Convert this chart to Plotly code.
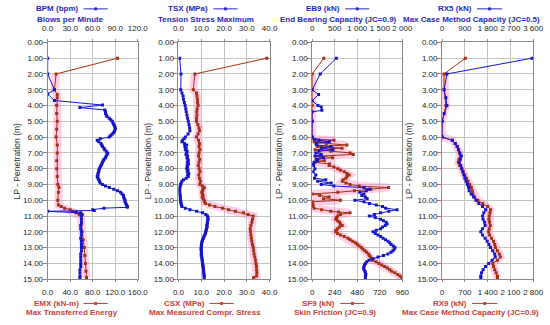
import plotly.graph_objects as go

# ---------------- DATA ----------------
# Panel 1: BPM (top axis) and EMX (bottom axis)
bpm_depth = [1.0, 2.0, 3.0, 3.27, 3.68, 3.97, 4.13, 4.28, 4.4, 4.5, 4.6, 4.7, 4.8, 4.9, 5.0, 5.1, 5.2, 5.3, 5.4, 5.5,
             5.6, 5.7, 5.8, 5.9, 6.0, 6.1, 6.2, 6.3, 6.4, 6.5, 6.6, 6.7, 6.8, 6.9, 7.0, 7.1, 7.2, 7.3, 7.4, 7.5,
             7.6, 7.7, 7.8, 7.9, 8.0, 8.1, 8.2, 8.3, 8.4, 8.5, 8.6, 8.7, 8.8, 8.9, 9.0, 9.1, 9.2, 9.3, 9.4, 9.5,
             9.6, 9.7, 9.8, 9.9, 10.0, 10.1, 10.2, 10.3, 10.4, 10.45, 10.5, 10.6, 10.65, 10.7, 10.75, 10.8, 10.9,
             11.0, 11.2, 11.4, 11.6, 11.8, 12.0, 12.2, 12.4, 12.6, 12.8, 13.0, 13.2, 13.4, 13.6, 13.8, 14.0, 14.2,
             14.4, 14.6, 14.8, 14.9]
bpm_value = [0, 0, 9, 0, 9, 73, 43, 76, 77, 77, 78, 79, 82, 84, 86, 87, 88, 89, 90, 90,
             89, 88, 86, 84, 82, 70, 66, 68, 71, 72, 73, 75, 76, 78, 80, 79, 78, 77, 75, 74,
             73, 72, 71, 70, 69, 68, 68, 67, 67, 66, 67, 68, 69, 70, 73, 77, 82, 88, 93, 97,
             99, 101, 101, 102, 103, 103, 104, 105, 106, 106, 75, 60, 62, 0, 38, 44, 46,
             45, 45, 45, 44, 44, 45, 45, 44, 45, 45, 45, 45, 44, 44, 44, 44, 44,
             43, 43, 43, 43]
emx_depth = [1.0, 2.0, 3.0, 3.3, 3.5, 4.0, 4.5, 5.0, 5.5, 6.0, 6.5, 7.0, 7.5, 8.0, 8.5, 9.0, 9.2, 9.5, 10.0,
             10.3, 10.4, 10.5, 10.6, 10.7, 10.8, 10.9, 11.0, 11.5, 12.0, 12.5, 13.0, 13.5, 14.0, 14.5, 14.9]
emx_value = [124, 15, 12, 17, 17, 16, 16, 17, 16, 15, 17, 17, 16, 16, 17, 18, 20, 19, 18,
             19, 24, 30, 40, 44, 50, 56, 59, 60, 61, 63, 65, 66, 67, 68, 69]

# Panel 2: TSX (top) and CSX (bottom)
tsx_depth = [1.0, 2.0, 3.0, 3.2, 3.4, 3.6, 3.8, 4.0, 4.2, 4.4, 4.6, 4.8, 5.0, 5.2, 5.4, 5.6, 5.8, 6.0, 6.1, 6.2,
             6.3, 6.4, 6.5, 6.6, 6.7, 6.8, 6.9, 7.0, 7.1, 7.2, 7.3, 7.4, 7.5, 7.6, 7.7, 7.8, 7.9, 8.0, 8.1, 8.2,
             8.3, 8.4, 8.5, 8.6, 8.7, 8.8, 8.9, 9.0, 9.1, 9.2, 9.3, 9.4, 9.5, 9.6, 9.7, 9.8, 9.9, 10.0, 10.1,
             10.2, 10.3, 10.4, 10.5, 10.6, 10.7, 10.8, 10.9, 11.0, 11.1, 11.2, 11.3, 11.4, 11.5, 11.6, 11.7,
             11.8, 11.9, 12.0, 12.1, 12.2, 12.3, 12.4, 12.5, 12.6, 12.7, 12.8, 12.9, 13.0, 13.1, 13.2, 13.3,
             13.4, 13.5, 13.6, 13.7, 13.8, 13.9, 14.0, 14.1, 14.2, 14.3, 14.4, 14.5, 14.6, 14.7, 14.8, 14.9]
tsx_value = [0.5, 1.1, 1.0, 1.5, 2.0, 2.2, 2.6, 2.9, 3.2, 3.4, 3.7, 4.0, 4.3, 4.6, 4.9, 5.0, 4.2, 3.0, 2.5, 1.8,
             1.5, 2.6, 3.6, 2.8, 3.4, 3.0, 3.8, 3.6, 3.3, 4.0, 3.7, 4.1, 4.3, 3.9, 4.4, 3.8, 4.0, 3.6, 4.2, 3.9,
             4.5, 4.0, 4.3, 3.4, 2.2, 1.5, 1.2, 0.9, 0.7, 0.6, 0.5, 0.5, 0.5, 0.6, 0.7, 0.8, 0.8, 0.9, 1.0,
             1.1, 1.3, 1.5, 3.0, 5.0, 8.0, 10.6, 12.0, 12.7, 12.9, 13.0, 12.8, 12.7, 12.6, 12.4, 12.6,
             12.3, 12.1, 12.0, 11.8, 11.5, 11.2, 10.9, 10.6, 10.4, 10.2, 10.1, 10.0, 10.0, 9.9, 10.0, 10.1,
             10.0, 10.0, 10.2, 10.3, 10.4, 10.5, 10.6, 10.7, 10.8, 10.9, 11.0, 11.0, 11.1, 11.2, 11.3, 11.3]
csx_depth = [1.0, 2.0, 3.0, 3.2, 3.4, 3.6, 3.8, 4.0, 4.2, 4.4, 4.6, 4.8, 5.0, 5.2, 5.4, 5.6, 5.8, 6.0, 6.2, 6.4,
             6.6, 6.8, 7.0, 7.2, 7.4, 7.6, 7.8, 8.0, 8.2, 8.4, 8.6, 8.8, 9.0, 9.1, 9.2, 9.3, 9.4, 9.5, 9.6, 9.7,
             9.8, 9.9, 10.0, 10.1, 10.2, 10.3, 10.4, 10.5, 10.6, 10.7, 10.8, 10.9, 11.0, 11.2, 11.4, 11.6, 11.8,
             12.0, 12.2, 12.4, 12.6, 12.8, 13.0, 13.2, 13.4, 13.6, 13.8, 14.0, 14.2, 14.4, 14.6, 14.8, 14.9]
csx_value = [38.8, 7.2, 6.5, 7.9, 8.1, 8.3, 8.4, 8.6, 8.2, 8.0, 8.1, 7.9, 7.9, 8.5, 9.0, 9.2, 8.6, 7.9, 8.8, 9.2,
             9.0, 9.4, 9.0, 8.8, 9.3, 9.0, 8.7, 9.1, 9.4, 8.9, 9.2, 9.6, 9.4, 10.5, 11.3, 10.8, 10.6, 10.2, 10.5, 10.8,
             10.4, 10.9, 11.2, 11.5, 11.8, 13.6, 16.0, 19.3, 22.0, 25.0, 28.5, 30.6, 32.8, 32.5, 32.2, 31.8, 31.5,
             31.6, 31.8, 32.0, 32.2, 32.5, 32.8, 33.0, 33.2, 33.5, 33.8, 34.0, 34.2, 34.3, 34.4, 34.3, 33.0]

# Panel 3: EB9 (top) and SF9 (bottom)
eb9_depth = [1.0, 2.0, 3.0, 3.3, 3.7, 4.0, 4.1, 4.3, 4.4, 5.0, 6.0, 6.15, 6.2, 6.3, 6.4, 6.5, 6.6, 6.7, 6.8, 6.9,
             7.0, 7.1, 7.2, 7.3, 7.4, 7.5, 7.6, 7.7, 7.8, 8.0, 8.2, 8.4, 8.6, 8.7, 8.8, 8.9, 9.0, 9.1, 9.2, 9.3,
             9.4, 9.5, 9.6, 9.7, 9.8, 9.9, 10.0, 10.1, 10.2, 10.3, 10.4, 10.5, 10.6, 10.7, 10.8, 10.9, 11.0,
             11.1, 11.2, 11.3, 11.4, 11.5, 11.6, 11.7, 11.8, 11.9, 12.0, 12.1, 12.2, 12.3, 12.4, 12.5, 12.6,
             12.7, 12.8, 12.9, 13.0, 13.1, 13.2, 13.3, 13.4, 13.5, 13.6, 13.7, 13.8, 13.9, 14.0, 14.1, 14.2,
             14.3, 14.4, 14.5, 14.6, 14.7, 14.8, 14.9]
eb9_value = [534, 177, 0, 141, 0, 128, 200, 214, 0, 0, 0, 60, 150, 380, 90, 100, 420, 200, 460, 150,
             80, 200, 60, 250, 100, 120, 40, 0, 30, 60, 20, 80, 50, 300, 120, 420, 200, 480, 1150, 1267,
             1200, 1053, 1150, 1100, 1180, 1220, 946, 1150, 1270, 1420, 1560, 1630, 1880, 1700, 1517, 1380, 1267,
             1400, 1517, 1580, 1640, 1660, 1620, 1560, 1517, 1420, 1350, 1400, 1460, 1517, 1570, 1625, 1680,
             1720, 1750, 1800, 1837, 1820, 1790, 1750, 1680, 1580, 1460, 1350, 1260, 1210, 1180, 1160, 1150,
             1140, 1150, 1170, 1180, 1190, 1180, 1180]
sf9_depth = [1.0, 2.0, 3.0, 4.0, 5.0, 6.0, 6.1, 6.2, 6.3, 6.4, 6.5, 6.6, 6.7, 6.8, 6.9, 7.0, 7.1, 7.2, 7.3, 7.4,
             7.5, 7.6, 7.7, 7.8, 7.9, 8.0, 8.1, 8.2, 8.3, 8.4, 8.5, 8.6, 8.7, 8.8, 8.9, 9.0, 9.1, 9.2, 9.3, 9.4,
             9.5, 9.6, 9.7, 9.8, 9.9, 10.0, 10.1, 10.2, 10.3, 10.4, 10.5, 10.6, 10.7, 10.75, 10.8, 10.9, 11.0,
             11.1, 11.2, 11.3, 11.4, 11.5, 11.6, 11.7, 11.8, 11.9, 12.0, 12.1, 12.2, 12.3, 12.4, 12.5, 12.6,
             12.7, 12.8, 12.9, 13.0, 13.1, 13.2, 13.3, 13.4, 13.5, 13.6, 13.7, 13.8, 13.9, 14.0, 14.1, 14.2,
             14.3, 14.4, 14.5, 14.6, 14.7, 14.8, 14.9]
sf9_value = [123, 0, 0, 0, 0, 0, 0, 232, 20, 150, 369, 60, 318, 30, 200, 403, 437, 80, 216, 40,
             130, 30, 185, 180, 230, 273, 300, 342, 370, 393, 370, 359, 330, 321, 360, 403, 500, 813, 625, 450,
             273, 0, 80, 180, 120, 300, 0, 0, 10, 0, 20, 100, 198, 280, 403, 300, 273,
             260, 250, 270, 290, 300, 320, 290, 270, 255, 250, 270, 300, 340, 380, 403, 430,
             460, 480, 500, 523, 540, 560, 580, 600, 608, 620, 635, 642, 680, 711, 740, 770,
             800, 825, 847, 880, 910, 933, 955]

# Panel 4: RX5 (top) and RX9 (bottom)
rx5_depth = [1.0, 2.0, 3.0, 3.5, 4.0, 4.5, 5.0, 6.0, 6.2, 6.4, 6.6, 6.8, 7.0, 7.2, 7.4, 7.6, 7.8, 8.0, 8.2, 8.4,
             8.6, 8.8, 9.0, 9.2, 9.4, 9.6, 9.8, 10.0, 10.2, 10.4, 10.6, 10.8, 11.0, 11.2, 11.4, 11.6, 11.8, 12.0,
             12.2, 12.4, 12.6, 12.8, 13.0, 13.2, 13.4, 13.6, 13.8, 14.0, 14.2, 14.4, 14.6, 14.8, 14.9]
rx5_value = [3560, 190, 80, 150, 190, 80, 0, 0, 400, 520, 600, 650, 700, 760, 720, 680, 740, 780, 820, 860,
             900, 950, 1000, 1050, 1070, 1150, 1250, 1340, 1450, 1600, 1720, 1650, 1600, 1620, 1680, 1700, 1600, 1530,
             1600, 1700, 1780, 1850, 1910, 2000, 2080, 2100, 1980, 1840, 1720, 1620, 1560, 1530, 1530]
rx9_depth = [1.0, 2.0, 3.0, 4.0, 5.0, 6.0, 6.2, 6.4, 6.6, 6.8, 7.0, 7.2, 7.4, 7.6, 7.8, 8.0, 8.2, 8.4, 8.6, 8.8,
             9.0, 9.2, 9.4, 9.6, 9.8, 10.0, 10.2, 10.4, 10.6, 10.8, 11.0, 11.2, 11.4, 11.6, 11.8, 12.0, 12.2,
             12.4, 12.6, 12.8, 13.0, 13.2, 13.4, 13.6, 13.8, 14.0, 14.2, 14.4, 14.6, 14.8, 14.9]
rx9_value = [715, 60, 60, 120, 0, 0, 320, 400, 460, 500, 540, 560, 520, 500, 540, 600, 650, 700, 750, 800,
             850, 900, 930, 950, 1000, 1100, 1250, 1400, 1490, 1470, 1450, 1440, 1460, 1480, 1450, 1430, 1460,
             1520, 1580, 1620, 1640, 1700, 1760, 1790, 1700, 1560, 1580, 1620, 1660, 1700, 1700]

# axis ticks
depth_ticks = list(range(0, 16))
p1_top_ticks, p1_top_text = [0, 30, 60, 90, 120], ["0.0", "30.0", "60.0", "90.0", "120.0"]
p1_bot_ticks, p1_bot_text = [0, 40, 80, 120, 160], ["0.0", "40.0", "80.0", "120.0", "160.0"]
p2_top_ticks, p2_top_text = [0, 10, 20, 30, 40], ["0.0", "10.0", "20.0", "30.0", "40.0"]
p2_bot_ticks, p2_bot_text = [0, 10, 20, 30, 40], ["0.0", "10.0", "20.0", "30.0", "40.0"]
p3_top_ticks, p3_top_text = [0, 500, 1000, 1500, 2000], ["0", "500", "1 000", "1 500", "2 000"]
p3_bot_ticks, p3_bot_text = [0, 240, 480, 720, 960], ["0", "240", "480", "720", "960"]
p4_top_ticks, p4_top_text = [0, 900, 1800, 2700, 3600], ["0", "900", "1 800", "2 700", "3 600"]
p4_bot_ticks, p4_bot_text = [0, 700, 1400, 2100, 2800], ["0", "700", "1 400", "2 100", "2 800"]

top_titles = [("BPM (bpm)", "Blows per Minute"), ("TSX (MPa)", "Tension Stress Maximum"),
              ("EB9 (kN)", "End Bearing Capacity (JC=0.9)"), ("RX5 (kN)", "Max Case Method Capacity (JC=0.5)")]
bot_titles = [("EMX (kN-m)", "Max Transferred Energy"), ("CSX (MPa)", "Max Measured Compr. Stress"),
              ("SF9 (kN)", "Skin Friction (JC=0.9)"), ("RX9 (kN)", "Max Case Method Capacity (JC=0.9)")]
y_title = "LP - Penetration (m)"

# ---------------- STYLE / LAYOUT ----------------
W, H = 550, 325
FONT = "Liberation Sans, Arial, sans-serif"
BLUE = "#1414C8"
RED = "#A3300F"
PINK = "rgba(255,130,200,0.38)"
TITLE_BLUE = "#2828C0"
TITLE_RED = "#C84040"
GRID = "#C4C4C4"

panels_px = [(43, 136), (178, 272), (316, 409), (450, 544)]
top_px, bot_px = 39.5, 283.0
ytitle_px = [11, 146, 281, 416]
top_glyph_px = [(80, 105), (214, 239), (350, 375), (486, 512)]
bot_glyph_px = [(80, 105), (210, 235), (345, 370), (481, 507)]
top_center_px = [67, 206, 343, 480]
bot_center_px = [68, 205, 339, 479]

def px(x):
    return x / W

def py(y):
    return 1 - y / H

series = [
    (bpm_depth, bpm_value, emx_depth, emx_value, (0, 120), (0, 160),
     p1_top_ticks, p1_top_text, p1_bot_ticks, p1_bot_text),
    (tsx_depth, tsx_value, csx_depth, csx_value, (0, 40), (0, 40),
     p2_top_ticks, p2_top_text, p2_bot_ticks, p2_bot_text),
    (eb9_depth, eb9_value, sf9_depth, sf9_value, (0, 2000), (0, 960),
     p3_top_ticks, p3_top_text, p3_bot_ticks, p3_bot_text),
    (rx5_depth, rx5_value, rx9_depth, rx9_value, (0, 3600), (0, 2800),
     p4_top_ticks, p4_top_text, p4_bot_ticks, p4_bot_text),
]

fig = go.Figure()
layout = dict(
    width=W, height=H, margin=dict(l=0, r=0, t=0, b=0),
    paper_bgcolor="white", plot_bgcolor="white", showlegend=False,
    font=dict(family=FONT, size=8, color="#222"),
)
annotations = []
shapes = []
tickfont = dict(family=FONT, size=8, color="#222")
TFS = 8

for i, (td, tv, bd, bv, trng, brng, tt, ttx, bt, btx) in enumerate(series):
    xb = f"x{2 * i + 1}"
    xt = f"x{2 * i + 2}"
    yy = f"y{i + 1}"
    l, r = panels_px[i]
    dom_x = [px(l), px(r)]
    dom_y = [py(bot_px), py(top_px)]
    xb_key = "xaxis" if i == 0 else f"xaxis{2 * i + 1}"
    layout[xb_key] = dict(domain=dom_x, anchor=yy, range=list(brng), tickvals=bt, ticktext=btx,
                          tickangle=0, showgrid=True, gridcolor=GRID, gridwidth=1, zeroline=False,
                          showline=True, linecolor="#888", mirror=False, ticks="outside", ticklen=2,
                          tickcolor="#888", tickfont=tickfont, side="bottom", ticklabelstandoff=3)
    layout[f"xaxis{2 * i + 2}"] = dict(overlaying=xb, anchor=yy, side="top", range=list(trng),
                                        tickvals=tt, ticktext=ttx, tickangle=0, showgrid=False,
                                        zeroline=False, showline=True, linecolor="#888",
                                        ticks="outside", ticklen=2, tickcolor="#888", tickfont=tickfont,
                                        ticklabelstandoff=5)
    y_key = "yaxis" if i == 0 else f"yaxis{i + 1}"
    layout[y_key] = dict(domain=dom_y, anchor=xb, range=[15, 0], tickvals=depth_ticks,
                         tickformat=".2f", showgrid=True, gridcolor=GRID, gridwidth=1, zeroline=False,
                         showline=True, linecolor="#888", mirror=True, ticks="outside", ticklen=4,
                         tickcolor="#888", tickfont=tickfont, ticklabelstandoff=-2)

    # pink band behind the red series (the measured data, not the first connector)
    fig.add_trace(go.Scatter(x=bv[1:], y=bd[1:], xaxis=xb, yaxis=yy, mode="lines",
                             line=dict(color=PINK, width=8), hoverinfo="skip"))
    fig.add_trace(go.Scatter(x=bv, y=bd, xaxis=xb, yaxis=yy, mode="lines+markers",
                             line=dict(color=RED, width=1), marker=dict(color=RED, size=3, symbol="square")))
    fig.add_trace(go.Scatter(x=tv, y=td, xaxis=xt, yaxis=yy, mode="lines+markers",
                             line=dict(color=BLUE, width=1), marker=dict(color=BLUE, size=3, symbol="square")))

    # titles
    g0, g1 = top_glyph_px[i]
    annotations.append(dict(x=px(g0 - 3), y=py(5), xref="paper", yref="paper", xanchor="right",
                            yanchor="middle", showarrow=False, text=f"<b>{top_titles[i][0]}</b>",
                            font=dict(family=FONT, size=TFS, color=TITLE_BLUE)))
    annotations.append(dict(x=px(top_center_px[i]), y=py(15.5), xref="paper", yref="paper", xanchor="center",
                            yanchor="middle", showarrow=False, text=f"<b>{top_titles[i][1]}</b>",
                            font=dict(family=FONT, size=TFS, color=TITLE_BLUE)))
    shapes.append(dict(type="line", xref="paper", yref="paper", x0=px(g0), x1=px(g1), y0=py(5), y1=py(5),
                       line=dict(color=TITLE_BLUE, width=1)))
    gm = (g0 + g1) / 2
    shapes.append(dict(type="rect", xref="paper", yref="paper", x0=px(gm - 1.5), x1=px(gm + 1.5),
                       y0=py(6.5), y1=py(3.5), fillcolor=TITLE_BLUE, line=dict(width=0)))

    b0, b1 = bot_glyph_px[i]
    annotations.append(dict(x=px(b0 - 3), y=py(308), xref="paper", yref="paper", xanchor="right",
                            yanchor="middle", showarrow=False, text=f"<b>{bot_titles[i][0]}</b>",
                            font=dict(family=FONT, size=TFS, color=TITLE_RED)))
    annotations.append(dict(x=px(bot_center_px[i]), y=py(317.5), xref="paper", yref="paper", xanchor="center",
                            yanchor="middle", showarrow=False, text=f"<b>{bot_titles[i][1]}</b>",
                            font=dict(family=FONT, size=TFS, color=TITLE_RED)))
    shapes.append(dict(type="line", xref="paper", yref="paper", x0=px(b0), x1=px(b1), y0=py(308), y1=py(308),
                       line=dict(color=TITLE_RED, width=1)))
    bm = (b0 + b1) / 2
    shapes.append(dict(type="rect", xref="paper", yref="paper", x0=px(bm - 1.5), x1=px(bm + 1.5),
                       y0=py(309.5), y1=py(306.5), fillcolor=TITLE_RED, line=dict(width=0)))

    annotations.append(dict(x=px(ytitle_px[i]), y=py((top_px + bot_px) / 2), xref="paper", yref="paper",
                            xanchor="center", yanchor="middle", showarrow=False, text=y_title, textangle=-90,
                            font=dict(family=FONT, size=8.5, color="#333")))

layout["annotations"] = annotations
layout["shapes"] = shapes
fig.update_layout(**layout)
fig.write_html("out.html", config={"displayModeBar": False},
               post_script="document.body.style.margin='0px';document.body.style.overflow='hidden';")
